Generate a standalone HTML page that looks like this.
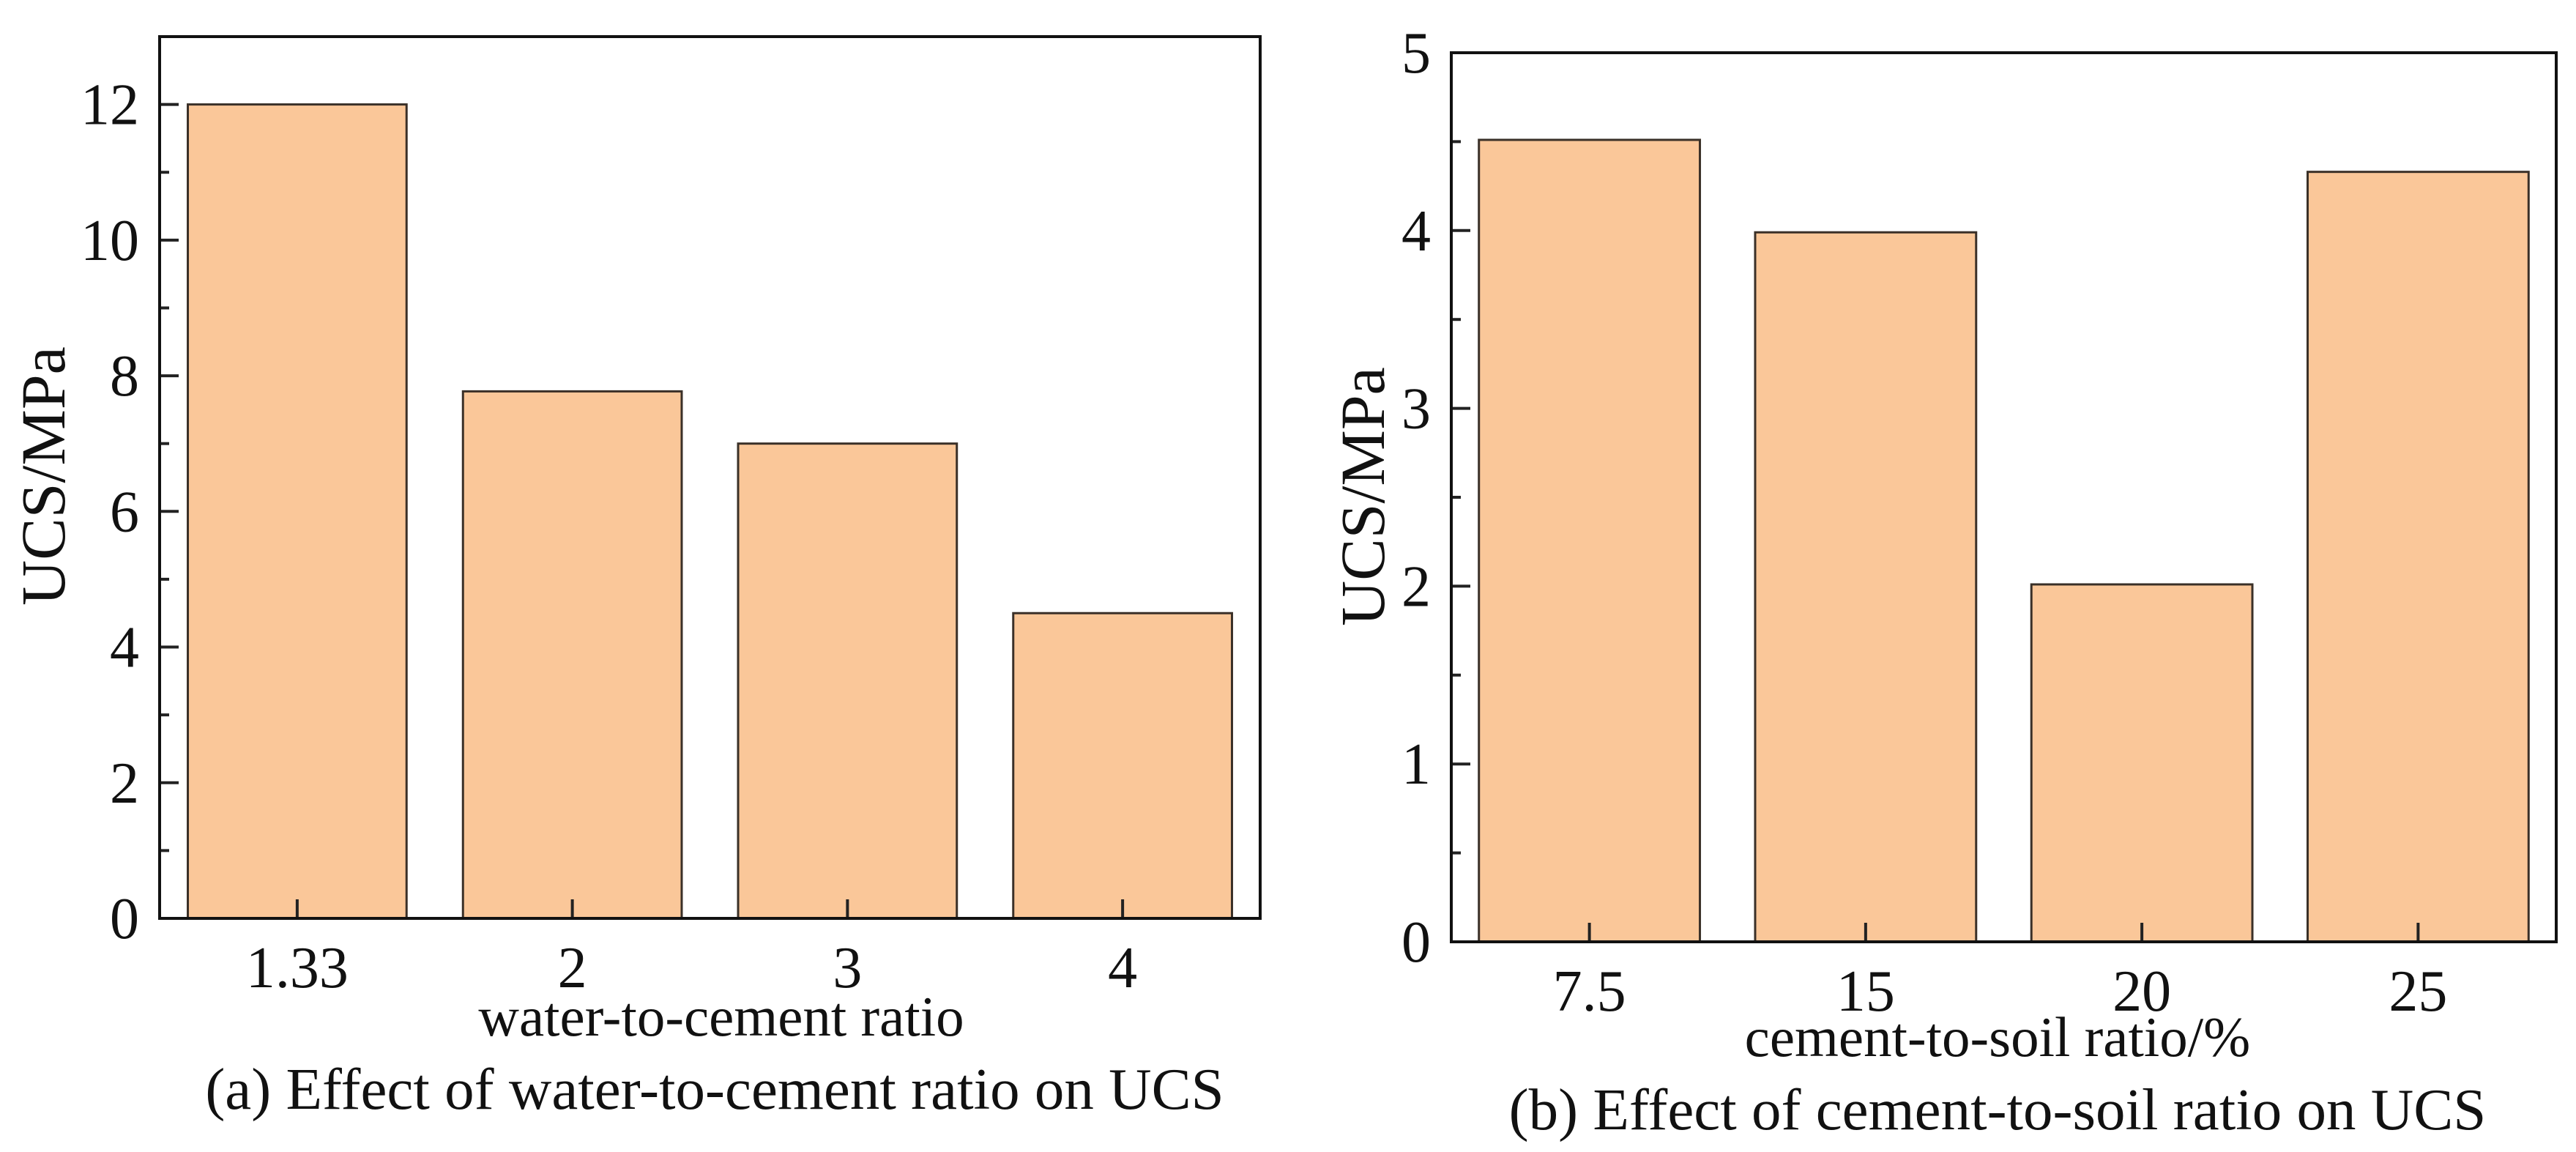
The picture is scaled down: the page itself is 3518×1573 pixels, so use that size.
<!DOCTYPE html>
<html><head><meta charset="utf-8"><style>
html,body{margin:0;padding:0;background:#fff;}
svg text{font-family:"Liberation Serif",serif;fill:#111;}
</style></head><body>
<svg id="chart" width="3518" height="1568" viewBox="0 0 3518 1568" xmlns="http://www.w3.org/2000/svg"></svg>
<script>
// Panel (a)
const catsA = ["1.33","2","3","4"];
const valsA = [12.0, 7.77, 7.0, 4.5];
const ticksA = [0,2,4,6,8,10,12];
// Panel (b)
const catsB = ["7.5","15","20","25"];
const valsB = [4.51, 3.99, 2.01, 4.33];
const ticksB = [0,1,2,3,4,5];

const svg = document.getElementById('chart');
const NS = "http://www.w3.org/2000/svg";
function mk(tag, attrs, parent){
  const e = document.createElementNS(NS, tag);
  for (const k in attrs) e.setAttribute(k, attrs[k]);
  (parent||svg).appendChild(e);
  return e;
}
function panel(cfg){
  const g = mk('g', {});
  
  
  const L=cfg.L, R=cfg.R, T=cfg.T, B=cfg.B;
  const y = v => B - (v/cfg.max)*(B-T);
  const band = (R-L)/cfg.cats.length;
  const x = i => L + band*(i+0.5);
  const bw = band*cfg.bwFrac;
  cfg.vals.forEach((v,i)=>{
    const r = mk('rect', {x:x(i)-bw/2, y:y(v), width:bw, height:B-y(v), fill:'#fac799', stroke:'#3a3028', 'stroke-width':3}, g);
    
    
  });
  cfg.ticks.forEach(t=>{
    mk('line', {x1:L, x2:L+26, y1:y(t), y2:y(t), stroke:'#222', 'stroke-width':4}, g);
    const tx = mk('text', {x:L-28, y:y(t)+27, 'text-anchor':'end', 'font-size':80}, g);
    tx.textContent = t;
    
    
  });
  for (let k=0;k<cfg.ticks.length-1;k++){
    const m = (cfg.ticks[k]+cfg.ticks[k+1])/2;
    mk('line', {x1:L, x2:L+13, y1:y(m), y2:y(m), stroke:'#222', 'stroke-width':4}, g);
  }
  cfg.cats.forEach((c,i)=>{
    mk('line', {x1:x(i), x2:x(i), y1:B, y2:B-26, stroke:'#222', 'stroke-width':4}, g);
    const tx = mk('text', {x:x(i), y:B+94, 'text-anchor':'middle', 'font-size':80}, g);
    tx.textContent = c;
    
    
  });
  const fr = mk('rect', {x:L, y:T, width:R-L, height:B-T, fill:'none', stroke:'#111', 'stroke-width':4}, g);
  
  
  const xl = mk('text', {x:cfg.xlX, y:cfg.xlY, 'text-anchor':'middle', 'font-size':77}, g);
  xl.textContent = cfg.xlabel;
  
  
  const yl = mk('text', {x:0, y:0, 'text-anchor':'middle', 'font-size':86, transform:`translate(${cfg.ylX},${cfg.ylY}) rotate(-90)`}, g);
  yl.textContent = 'UCS/MPa';
  
  
  const cp = mk('text', {x:cfg.cpX, y:cfg.cpY, 'text-anchor':'middle', 'font-size':81}, g);
  cp.textContent = cfg.caption;
  
  
}
panel({name:'panel-a', cats:catsA, vals:valsA, ticks:ticksA, max:13,
  L:218, R:1721, T:50, B:1254, bwFrac:0.795,
  xlabel:'water-to-cement ratio', xlX:985, xlY:1414,
  ylX:88, ylY:650, caption:'(a) Effect of water-to-cement ratio on UCS', cpX:976, cpY:1514});
panel({name:'panel-b', cats:catsB, vals:valsB, ticks:ticksB, max:5,
  L:1982, R:3491, T:72, B:1286, bwFrac:0.8,
  xlabel:'cement-to-soil ratio/%', xlX:2728, xlY:1442,
  ylX:1890, ylY:678, caption:'(b)  Effect of cement-to-soil ratio on UCS', cpX:2728, cpY:1542});
</script>
</body></html>
